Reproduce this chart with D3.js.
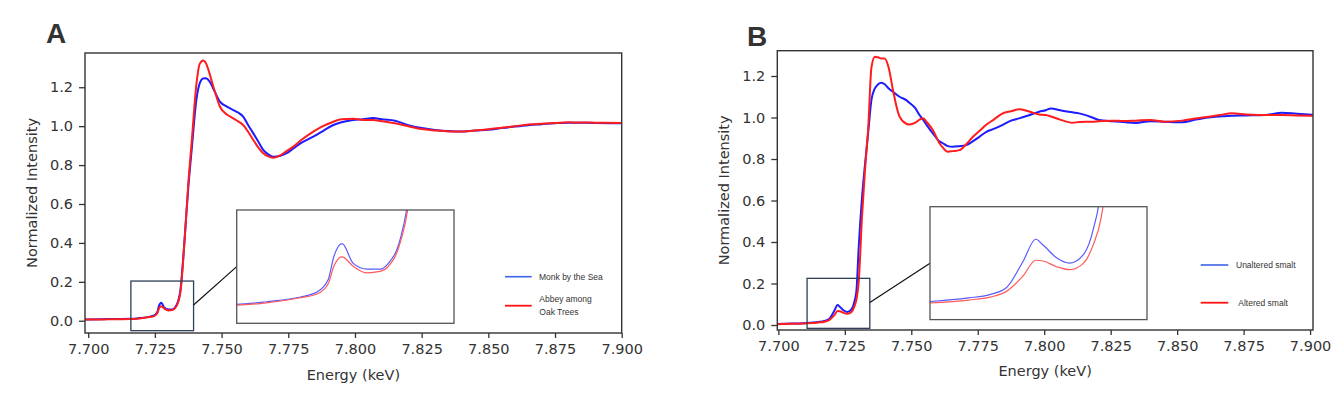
<!DOCTYPE html>
<html><head><meta charset="utf-8">
<script src="https://cdn.jsdelivr.net/npm/d3@7"></script>
<style>
html,body{margin:0;padding:0;background:#fff;}
svg{display:block;}
text{font-family:"DejaVu Sans",sans-serif;fill:#333;}
</style></head>
<body>
<svg id="chart" width="1343" height="406"></svg>
<script>
// ---------- DATA ----------
const xTicks = [7.700, 7.725, 7.750, 7.775, 7.800, 7.825, 7.850, 7.875, 7.900];
const yTicks = [0.0, 0.2, 0.4, 0.6, 0.8, 1.0, 1.2];

const energyA = [7.6988, 7.705, 7.710, 7.716, 7.7192, 7.7229, 7.7247, 7.7259, 7.7265, 7.7274, 7.7286, 7.7301, 7.7315, 7.7324, 7.7337, 7.7346, 7.7355, 7.7363, 7.7375, 7.7388, 7.7406, 7.7418, 7.7431, 7.7441, 7.7455, 7.7470, 7.7494, 7.7520, 7.7544, 7.7562, 7.7581, 7.7600, 7.7619, 7.7638, 7.7656, 7.7675, 7.7694, 7.7720, 7.7744, 7.7769, 7.7800, 7.7844, 7.7880, 7.7919, 7.7950, 7.7994, 7.8030, 7.8069, 7.8100, 7.8150, 7.8200, 7.8250, 7.8300, 7.8350, 7.8394, 7.8450, 7.8500, 7.8550, 7.8600, 7.8650, 7.8700, 7.8750, 7.8800, 7.8831, 7.8900, 7.9000];
const monkBySea = [0.007, 0.008, 0.009, 0.010, 0.0135, 0.020, 0.027, 0.044, 0.075, 0.093, 0.066, 0.058, 0.058, 0.066, 0.10, 0.16, 0.30, 0.45, 0.68, 0.88, 1.14, 1.22, 1.245, 1.246, 1.23, 1.19, 1.126, 1.10, 1.083, 1.07, 1.049, 1.005, 0.963, 0.92, 0.878, 0.855, 0.843, 0.848, 0.861, 0.885, 0.915, 0.946, 0.975, 1.006, 1.02, 1.032, 1.036, 1.042, 1.035, 1.028, 1.005, 0.99, 0.98, 0.975, 0.972, 0.978, 0.982, 0.99, 0.998, 1.005, 1.01, 1.015, 1.018, 1.018, 1.016, 1.015];
const abbeyOakTrees = [0.006, 0.007, 0.008, 0.009, 0.012, 0.019, 0.024, 0.038, 0.062, 0.075, 0.062, 0.053, 0.055, 0.062, 0.095, 0.15, 0.29, 0.45, 0.70, 0.92, 1.22, 1.32, 1.337, 1.325, 1.27, 1.20, 1.10, 1.06, 1.04, 1.025, 1.006, 0.97, 0.929, 0.89, 0.861, 0.845, 0.838, 0.85, 0.872, 0.895, 0.93, 0.972, 1.00, 1.023, 1.035, 1.038, 1.032, 1.032, 1.025, 1.015, 1.0, 0.985, 0.978, 0.973, 0.972, 0.978, 0.984, 0.992, 1.0, 1.008, 1.013, 1.016, 1.02, 1.019, 1.018, 1.016];

const energyB = [7.6996, 7.705, 7.7108, 7.7150, 7.7173, 7.7191, 7.7209, 7.7223, 7.7231, 7.7246, 7.7260, 7.7275, 7.7286, 7.7294, 7.7302, 7.7315, 7.7325, 7.7338, 7.7350, 7.7363, 7.7375, 7.7388, 7.7400, 7.7415, 7.7431, 7.7445, 7.7456, 7.7481, 7.7494, 7.7515, 7.7531, 7.7544, 7.7560, 7.7581, 7.7606, 7.7619, 7.7637, 7.7656, 7.7681, 7.7706, 7.7731, 7.7756, 7.7781, 7.7810, 7.7844, 7.7875, 7.7906, 7.7940, 7.7981, 7.8006, 7.8025, 7.8060, 7.8106, 7.8131, 7.8181, 7.8206, 7.8256, 7.8300, 7.8344, 7.8400, 7.8450, 7.8519, 7.8570, 7.8619, 7.8660, 7.8706, 7.8760, 7.8831, 7.8894, 7.8950, 7.9010];
const unalteredSmalt = [0.005, 0.007, 0.010, 0.015, 0.0195, 0.029, 0.065, 0.096, 0.088, 0.070, 0.063, 0.075, 0.112, 0.17, 0.37, 0.62, 0.763, 0.93, 1.084, 1.14, 1.16, 1.168, 1.16, 1.14, 1.124, 1.11, 1.10, 1.084, 1.07, 1.045, 1.012, 0.99, 0.96, 0.924, 0.885, 0.876, 0.862, 0.859, 0.862, 0.867, 0.885, 0.907, 0.93, 0.945, 0.965, 0.985, 0.996, 1.01, 1.028, 1.035, 1.044, 1.035, 1.025, 1.02, 1.0, 0.988, 0.982, 0.978, 0.974, 0.982, 0.98, 0.977, 0.99, 1.0, 1.005, 1.009, 1.01, 1.012, 1.023, 1.018, 1.013];
const alteredSmalt = [0.004, 0.006, 0.008, 0.012, 0.016, 0.024, 0.045, 0.067, 0.066, 0.058, 0.054, 0.063, 0.09, 0.125, 0.205, 0.53, 0.73, 0.95, 1.24, 1.293, 1.29, 1.285, 1.285, 1.24, 1.133, 1.05, 1.004, 0.97, 0.966, 0.975, 0.99, 0.996, 0.975, 0.94, 0.876, 0.855, 0.835, 0.838, 0.843, 0.87, 0.906, 0.935, 0.964, 0.99, 1.02, 1.03, 1.04, 1.03, 1.015, 1.012, 1.005, 0.99, 0.975, 0.978, 0.98, 0.982, 0.985, 0.983, 0.985, 0.988, 0.98, 0.985, 0.995, 1.004, 1.012, 1.02, 1.015, 1.012, 1.012, 1.01, 1.008];

const seriesNamesA = ["Monk by the Sea", ["Abbey among", "Oak Trees"]];
const seriesNamesB = ["Unaltered smalt", ["Altered smalt"]];

// ---------- DRAW ----------
const svg = d3.select("#chart");
const BLUE = "#1c1cff", RED = "#ff1c1c";

function drawPanel(p) {
  const g = svg.append("g");
  const x = d3.scaleLinear().domain(p.xDomain).range([p.left, p.right]);
  const y = d3.scaleLinear().domain(p.yDomain).range([p.bottom, p.top]);
  const clipId = "clip" + p.id;
  svg.append("clipPath").attr("id", clipId).append("rect")
    .attr("x", p.left).attr("y", p.top).attr("width", p.right - p.left).attr("height", p.bottom - p.top);

  const data1 = p.energy.map((e, i) => [e, p.s1[i]]);
  const data2 = p.energy.map((e, i) => [e, p.s2[i]]);
  const line = d3.line().x(d => x(d[0])).y(d => y(d[1])).curve(d3.curveMonotoneX);
  const cg = g.append("g").attr("clip-path", `url(#${clipId})`);
  cg.append("path").attr("d", line(data1)).attr("fill", "none").attr("stroke", BLUE).attr("stroke-width", 2).attr("stroke-linejoin", "round");
  cg.append("path").attr("d", line(data2)).attr("fill", "none").attr("stroke", RED).attr("stroke-width", 2).attr("stroke-linejoin", "round");

  // frame
  g.append("rect").attr("x", p.left).attr("y", p.top).attr("width", p.right - p.left).attr("height", p.bottom - p.top)
    .attr("fill", "none").attr("stroke", "#333").attr("stroke-width", 1.4);

  // axes
  const xa = g.append("g").attr("transform", `translate(0,${p.bottom})`)
    .call(d3.axisBottom(x).tickValues(xTicks).tickFormat(d3.format(".3f")).tickSize(5).tickPadding(6));
  const ya = g.append("g").attr("transform", `translate(${p.left},0)`)
    .call(d3.axisLeft(y).tickValues(yTicks).tickFormat(d3.format(".1f")).tickSize(6).tickPadding(6));
  [xa, ya].forEach(a => {
    a.select(".domain").remove();
    a.selectAll(".tick line").attr("stroke", "#333").attr("stroke-width", 1.3);
    a.selectAll(".tick text").attr("font-size", "14.5px").attr("fill", "#333").style("font-family", "DejaVu Sans");
  });

  // axis labels
  g.append("text").attr("x", (p.left + p.right) / 2).attr("y", p.xLabelY).attr("text-anchor", "middle")
    .attr("font-size", "14.5px").text("Energy (keV)");
  g.append("text").attr("transform", `translate(${p.yLabelX},${(p.top + p.bottom) / 2}) rotate(-90)`)
    .attr("text-anchor", "middle").attr("font-size", "14.5px").text("Normalized Intensity");

  // panel letter
  g.append("text").attr("x", p.letterX).attr("y", p.letterY).attr("font-size", "28px").attr("font-weight", "bold")
    .style("font-family", "Liberation Sans, Arial, sans-serif").attr("fill", "#000").text(p.letter);

  // zoom box on main plot
  const bx0 = x(p.insetX[0]), bx1 = x(p.insetX[1]);
  const by0 = y(p.boxY[1]), by1 = y(p.boxY[0]);
  g.append("rect").attr("x", bx0).attr("y", by0).attr("width", bx1 - bx0).attr("height", by1 - by0)
    .attr("fill", "none").attr("stroke", "#2f3e5a").attr("stroke-width", 1.3);

  // inset
  const ix = d3.scaleLinear().domain(p.insetX).range([p.inset.x0, p.inset.x1]);
  const iy = d3.scaleLinear().domain(p.insetY).range([p.inset.y1, p.inset.y0]);
  // connector
  g.append("line").attr("x1", bx1).attr("y1", y(p.connVal)).attr("x2", p.inset.x0).attr("y2", (p.inset.y0 + p.inset.y1) / 2)
    .attr("stroke", "#111").attr("stroke-width", 1.2);
  g.append("rect").attr("x", p.inset.x0).attr("y", p.inset.y0).attr("width", p.inset.x1 - p.inset.x0).attr("height", p.inset.y1 - p.inset.y0)
    .attr("fill", "#fff").attr("stroke", "none");
  const iclip = "iclip" + p.id;
  svg.append("clipPath").attr("id", iclip).append("rect")
    .attr("x", p.inset.x0).attr("y", p.inset.y0).attr("width", p.inset.x1 - p.inset.x0).attr("height", p.inset.y1 - p.inset.y0);
  const iline = d3.line().x(d => ix(d[0])).y(d => iy(d[1])).curve(d3.curveMonotoneX);
  const ig = g.append("g").attr("clip-path", `url(#${iclip})`);
  ig.append("path").attr("d", iline(data1)).attr("fill", "none").attr("stroke", "#5a5aff").attr("stroke-width", 1.2);
  ig.append("path").attr("d", iline(data2)).attr("fill", "none").attr("stroke", "#ff5a5a").attr("stroke-width", 1.2);
  g.append("rect").attr("x", p.inset.x0).attr("y", p.inset.y0).attr("width", p.inset.x1 - p.inset.x0).attr("height", p.inset.y1 - p.inset.y0)
    .attr("fill", "none").attr("stroke", "#555").attr("stroke-width", 1.3);

  // legend
  const lg = g.append("g");
  lg.append("line").attr("x1", p.leg.x0).attr("x2", p.leg.x1).attr("y1", p.leg.y1).attr("y2", p.leg.y1)
    .attr("stroke", "#3d63e6").attr("stroke-width", 1.6);
  lg.append("line").attr("x1", p.leg.x0).attr("x2", p.leg.x1).attr("y1", p.leg.y2).attr("y2", p.leg.y2)
    .attr("stroke", "#ff1010").attr("stroke-width", 1.8);
  lg.append("text").attr("x", p.leg.tx1).attr("y", p.leg.y1 + 3).attr("font-size", "8.5px")
    .style("font-family", "Liberation Sans, Arial, sans-serif").attr("fill", "#222").text(p.names[0]);
  const n2 = p.names[1];
  n2.forEach((t, i) => {
    lg.append("text").attr("x", p.leg.tx2).attr("y", p.leg.y2 + 3 + (n2.length > 1 ? (i - 0.5) * 12.5 : 0))
      .attr("font-size", "8.5px").style("font-family", "Liberation Sans, Arial, sans-serif").attr("fill", "#222").text(t);
  });
}

drawPanel({
  id: "A", letter: "A", letterX: 46, letterY: 43,
  left: 85, right: 621.7, top: 53, bottom: 333,
  xDomain: [7.6988, 7.9000], yDomain: [-0.063, 1.376],
  energy: energyA, s1: monkBySea, s2: abbeyOakTrees,
  xLabelY: 380, yLabelX: 37,
  insetX: [7.716, 7.7395], insetY: [-0.016, 0.139], boxY: [-0.051, 0.204], connVal: 0.081,
  inset: {x0: 236.7, x1: 454, y0: 210, y1: 323.3},
  leg: {x0: 505, x1: 531.7, y1: 276.7, y2: 305.7, tx1: 539, tx2: 539.3},
  names: seriesNamesA
});

drawPanel({
  id: "B", letter: "B", letterX: 747, letterY: 46,
  left: 777.3, right: 1313, top: 50.7, bottom: 330,
  xDomain: [7.6996, 7.9011], yDomain: [-0.024, 1.322],
  energy: energyB, s1: unalteredSmalt, s2: alteredSmalt,
  xLabelY: 376, yLabelX: 729,
  insetX: [7.7108, 7.7344], insetY: [-0.015, 0.141], boxY: [-0.016, 0.225], connVal: 0.108,
  inset: {x0: 930, x1: 1147, y0: 206.7, y1: 319.6},
  leg: {x0: 1200.7, x1: 1228.3, y1: 265, y2: 302.7, tx1: 1236, tx2: 1238.3},
  names: seriesNamesB
});
</script>
</body></html>
